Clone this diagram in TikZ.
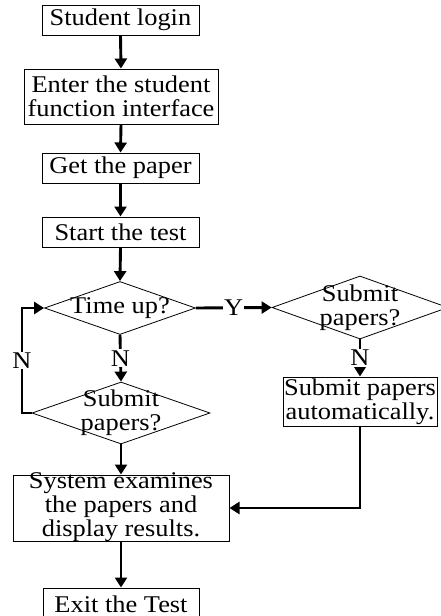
\documentclass[tikz,border=0pt]{standalone}
\usepackage{fontspec}
\setmainfont{Liberation Serif}[FakeStretch=1.1]
\usetikzlibrary{shapes.geometric,arrows.meta}
\begin{document}
\begin{tikzpicture}[x=1pt,y=-1pt,
  every node/.style={font=\fontsize{24}{24}\selectfont},
  boxnode/.style={draw,line width=1pt,inner sep=0pt,rectangle},
  dianode/.style={draw,line width=0.8pt,inner sep=0pt,diamond},
  txt/.style={inner sep=0pt,align=center},
  flow/.style={line width=2.9pt,-{Triangle[length=10pt,width=12pt]}},
  lbl/.style={fill=white,inner sep=1pt}]
\useasboundingbox (0,0) rectangle (441,616);
% boxes
\node[boxnode,minimum width=157,minimum height=30] (n1) at (120.5,20) {};
\node[txt] (t1) at (n1) {Student login};
\node[boxnode,minimum width=194,minimum height=55] (n2) at (121,96.5) {};
\node[txt] (t2) at (n2) {Enter the student\\function interface};
\node[boxnode,minimum width=157,minimum height=30] (n3) at (120.5,168) {};
\node[txt] (t3) at (n3) {Get the paper};
\node[boxnode,minimum width=157,minimum height=30] (n4) at (120.5,232) {};
\node[txt] (t4) at (n4) {Start the test};
% diamonds
\node[dianode,minimum width=151,minimum height=53] (d1) at (120,308) {};
\node[txt] (td1) at (d1) {Time up?};
\node[dianode,minimum width=176,minimum height=63] (d2) at (360,307.5) {};
\node[txt] (td2) at (d2) {Submit\\papers?};
\node[dianode,minimum width=178,minimum height=62] (d3) at (121,413) {};
\node[txt] (td3) at (d3) {Submit\\papers?};
% right box
\node[boxnode,minimum width=154,minimum height=49] (auto) at (360,401.5) {};
\node[txt] (tauto) at (auto) {Submit papers\\automatically.};
% system box
\node[boxnode,minimum width=216,minimum height=66] (sys) at (121,508) {};
\node[txt] (tsys) at ([yshift=1]sys) {System examines\\the papers and\\display results.};
% exit
\node[boxnode,minimum width=156,minimum height=30] (ex) at (121,603) {};
\node[txt] (tex) at ([yshift=-1]ex) {Exit the Test};
% connectors
\draw[flow] (n1.south) -- (n2.north);
\draw[flow] (n2.south) -- (n3.north);
\draw[flow] (n3.south) -- (n4.north);
\draw[flow] (n4.south) -- (d1.north);
\draw[flow] (d1.east) -- node[lbl] (ly) {Y} (d2.west);
\draw[flow] (d1.south) -- node[lbl] (ln1) {N} (d3.north);
\draw[flow] (d2.south) -- node[lbl] (ln2) {N} (auto.north);
\coordinate (lpa) at (22,413);
\coordinate (lpb) at (22,308);
\draw[flow] (d3.west) -- (lpa) -- node[lbl] (ln3) {N} (lpb) -- (d1.west);
\draw[flow] (d3.south) -- (sys.north);
\draw[flow] (auto.south) |- (sys.east);
\draw[flow] (sys.south) -- (ex.north);
\end{tikzpicture}
\end{document}
